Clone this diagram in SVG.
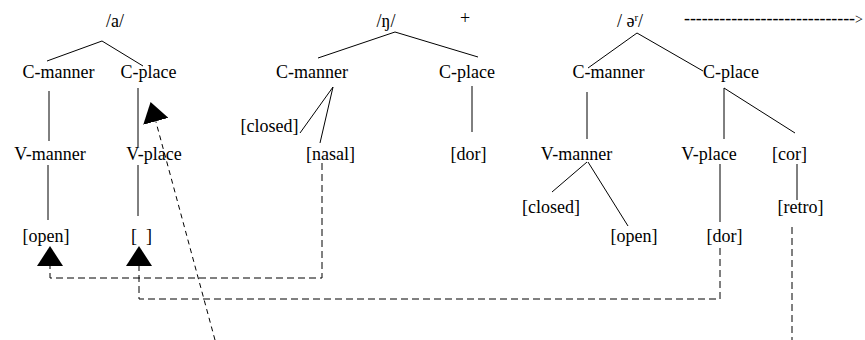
<svg xmlns="http://www.w3.org/2000/svg" width="865" height="340" viewBox="0 0 865 340">
<style>
text{font-family:"Liberation Serif","Times New Roman",serif;font-size:18px;fill:#000;text-anchor:middle}
.l{stroke:#000;stroke-width:1;fill:none}
.d{stroke:#000;stroke-width:1;fill:none;stroke-dasharray:7 4}
.dd{stroke:#000;stroke-width:1;fill:none;stroke-dasharray:5 4}
</style>
<defs>
<marker id="tri" markerUnits="userSpaceOnUse" viewBox="0 0 20 26" refX="0" refY="13" markerWidth="20" markerHeight="26" orient="auto">
<path d="M0,0 L20,13 L0,26 Z" fill="#000"/>
</marker>
</defs>
<rect width="865" height="340" fill="#fff"/>
<g id="connectors">
<path class="l" d="M102,41 L47,61 M102,41 L143,66 M49,91 V141 M138,88 V147 M48,165 V220 M138,165 V216"/>
<path class="l" d="M395,32 L318,58 M395,32 L478,57 M333,87 L300,133 M333,87 L320,143 M472,86 V132"/>
<path class="l" d="M637,33 L588,68 M637,33 L703,71 M587,92 V139 M724,88 V139 M724,88 L795,133 M587,162 L552,192 M588,162 L628,226 M720,164 V222 M797,164 V200"/>
<path class="d" d="M322,163 V278 H50 V266" marker-end="url(#tri)"/>
<path class="d" d="M720,248 V299 H139 V266" marker-end="url(#tri)"/>
<path class="dd" d="M215,340 L155.8,121.3" marker-end="url(#tri)"/>
<path class="d" d="M792,227 V340"/>
</g>
<g id="tree-a">
<g id="a-root"><text x="115" y="27">/a/</text></g>
<g id="a-cmanner"><text x="58.5" y="78">C-manner</text></g>
<g id="a-cplace"><text x="148.5" y="78">C-place</text></g>
<g id="a-vmanner"><text x="50" y="160">V-manner</text></g>
<g id="a-vplace"><text x="154" y="160">V-place</text></g>
<g id="a-open"><text x="46" y="242">[open]</text></g>
<g id="a-empty"><text x="141.5" y="242">[&#160;&#160;]</text></g>
</g>
<g id="tree-ng">
<g id="ng-root"><text x="386" y="27">/ŋ/</text></g>
<g id="plus"><text x="465" y="24">+</text></g>
<g id="ng-cmanner"><text x="312" y="78">C-manner</text></g>
<g id="ng-cplace"><text x="467" y="78">C-place</text></g>
<g id="ng-closed"><text x="269.5" y="132">[closed]</text></g>
<g id="ng-nasal"><text x="330.5" y="160">[nasal]</text></g>
<g id="ng-dor"><text x="468.5" y="160">[dor]</text></g>
</g>
<g id="tree-er">
<g id="er-root"><text x="630" y="27">/ ə<tspan font-size="11" dy="-6">r</tspan><tspan dy="6">/</tspan></text></g>
<g id="arrow-right"><text x="684" y="23.5" style="text-anchor:start;letter-spacing:-0.1px">-----------------------------<tspan font-size="14" style="letter-spacing:0">&gt;</tspan></text></g>
<g id="er-cmanner"><text x="608.5" y="78">C-manner</text></g>
<g id="er-cplace"><text x="731" y="78">C-place</text></g>
<g id="er-vmanner"><text x="576.5" y="160">V-manner</text></g>
<g id="er-vplace"><text x="709" y="160">V-place</text></g>
<g id="er-cor"><text x="789.5" y="160">[cor]</text></g>
<g id="er-closed"><text x="551" y="213">[closed]</text></g>
<g id="er-open"><text x="634" y="242">[open]</text></g>
<g id="er-dor"><text x="724.5" y="242">[dor]</text></g>
<g id="er-retro"><text x="800.5" y="213">[retro]</text></g>
</g>
</svg>
